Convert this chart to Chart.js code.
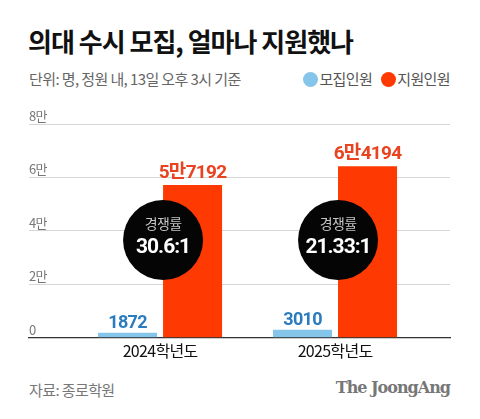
<!DOCTYPE html>
<html>
<head>
<meta charset="utf-8">
<script src="https://cdn.jsdelivr.net/npm/chart.js@4.4.0/dist/chart.umd.min.js"></script>
<style>
   html, body { margin: 0; padding: 0; background: #fff; }
   body { width: 480px; height: 419px; position: relative; overflow: hidden; font-family: "Noto Sans CJK KR", "Noto Sans", sans-serif; }
   #title { position: absolute; left: 28px; top: 22px; font-size: 26px; font-weight: 700; color: #111; letter-spacing: -1px; white-space: nowrap; }
   #sub { position: absolute; left: 29px; top: 68px; font-size: 15px; color: #666; letter-spacing: -0.6px; white-space: nowrap; }
   #legend { position: absolute; right: 30px; top: 68px; font-size: 15px; color: #555; letter-spacing: -0.6px; white-space: nowrap; }
   #legend span.dot { display: inline-block; width: 15px; height: 15px; border-radius: 50%; vertical-align: -2px; margin-right: 1px; }
   #legend .item { margin-left: 9px; }
   #wrap { position: absolute; left: 0; top: 100px; width: 480px; height: 270px; }
   #source { position: absolute; left: 29px; top: 379px; font-size: 15px; color: #777; letter-spacing: -0.6px; white-space: nowrap; }
   #brand { position: absolute; right: 30px; top: 378px; font-family: "DejaVu Serif", "Liberation Serif", serif; font-weight: 700; font-size: 16px; color: #777; letter-spacing: -1px; white-space: nowrap; }
</style>
</head>
<body>
<div id="title">의대 수시 모집, 얼마나 지원했나</div>
<div id="sub">단위: 명, 정원 내, 13일 오후 3시 기준</div>
<div id="legend"></div>
<div id="wrap"><canvas id="chart" width="480" height="270"></canvas></div>
<div id="source">자료: 종로학원</div>
<div id="brand">The JoongAng</div>
<script>
// data
const years = ["2024학년도", "2025학년도"];
const quota = [1872, 3010];          // 모집인원
const applicants = [57192, 64194];   // 지원인원
const ratios = ["30.6:1", "21.33:1"];
const yTicks = [0, 20000, 40000, 60000, 80000];
const yTickLabels = ["0", "2만", "4만", "6만", "8만"];
const seriesNames = ["모집인원", "지원인원"];

const blue = "#86c5ea";
const red = "#fe3a02";
const colors = [blue, red];
const labelColors = ["#2b7cbf", "#e9431f"];

// legend
document.getElementById("legend").innerHTML = seriesNames.map(function (n, i) {
   return '<span class="item"><span class="dot" style="background:' + colors[i] + '"></span>' + n + '</span>';
}).join("");

function fmt(v) {
   if (v >= 10000) return Math.floor(v / 10000) + "만" + (v % 10000);
   return String(v);
}

// tighter text everywhere on the canvas
const spacingPlugin = {
   id: "spacing",
   beforeDraw(chart) {
      chart.ctx.letterSpacing = "-0.7px";
   }
};

// labels above bars + ratio circles
const overlayPlugin = {
   id: "overlay",
   afterDatasetsDraw(chart) {
      const ctx = chart.ctx;
      const xs = chart.scales.x;
      const ys = chart.scales.y;
      ctx.save();
      ctx.textAlign = "center";
      ctx.textBaseline = "alphabetic";
      chart.data.datasets.forEach(function (ds, di) {
         chart.getDatasetMeta(di).data.forEach(function (bar, i) {
            ctx.fillStyle = labelColors[di];
            ctx.font = "700 " + (di === 1 ? 19 : 18) + "px Roboto, 'Noto Sans CJK KR', sans-serif";
            ctx.fillText(fmt(ds.data[i].y), bar.x, bar.y - (di === 1 ? 7 : 5));
         });
      });
      // circles
      ratios.forEach(function (r, i) {
         const cx = xs.getPixelForValue(i) + 3;
         const cy = ys.getPixelForValue(36600);
         ctx.beginPath();
         ctx.arc(cx, cy, 40, 0, Math.PI * 2);
         ctx.fillStyle = "#050505";
         ctx.fill();
         ctx.fillStyle = "#c4c4c4";
         ctx.font = "400 14px 'Noto Sans CJK KR', sans-serif";
         ctx.fillText("경쟁률", cx, cy - 11);
         ctx.fillStyle = "#fff";
         ctx.letterSpacing = "-1px";
         ctx.font = "700 21px Roboto, 'Noto Sans', sans-serif";
         ctx.fillText(r, cx, cy + 13);
         ctx.letterSpacing = "-0.7px";
      });
      ctx.restore();
   }
};

const ctx = document.getElementById("chart").getContext("2d");
const chart = new Chart(ctx, {
   type: "bar",
   data: {
      datasets: seriesNames.map(function (n, di) {
         const vals = di === 0 ? quota : applicants;
         return {
            label: n,
            data: vals.map(function (v, i) { return { x: i, y: v }; }),
            backgroundColor: colors[di],
            categoryPercentage: 0.743,
            barPercentage: 0.908,
         };
      }),
   },
   options: {
      responsive: false,
      animation: false,
      devicePixelRatio: 1,
      layout: { padding: { left: 29, right: 30, top: 24, bottom: 5 } },
      plugins: { legend: { display: false }, tooltip: { enabled: false } },
      scales: {
         x: {
            type: "linear",
            offset: false,
            min: -0.749,
            max: 1.657,
            afterBuildTicks: function (axis) {
               axis.ticks = years.map(function (y, i) { return { value: i }; });
            },
            ticks: {
               callback: function (v) { return years[v]; },
               color: "#111",
               font: { size: 16, family: "'Noto Sans CJK KR', sans-serif" },
               padding: 4,
               maxRotation: 0,
               autoSkip: false,
            },
            grid: { display: false, drawTicks: false, offset: false },
            border: { display: true, color: "#333", width: 1.3 },
         },
         y: {
            min: 0,
            max: 80000,
            afterBuildTicks: function (axis) {
               axis.ticks = yTicks.map(function (v) { return { value: v }; });
            },
            ticks: {
               mirror: true,
               padding: 0,
               labelOffset: -8,
               color: "#777",
               font: { size: 13, family: "'Noto Sans CJK KR', sans-serif" },
               callback: function (v) { return yTickLabels[yTicks.indexOf(v)]; },
            },
            grid: { color: "#d6d6d6", lineWidth: 1, drawTicks: false },
            border: { display: false },
         },
      },
   },
   plugins: [spacingPlugin, overlayPlugin],
});
</script>
</body>
</html>
